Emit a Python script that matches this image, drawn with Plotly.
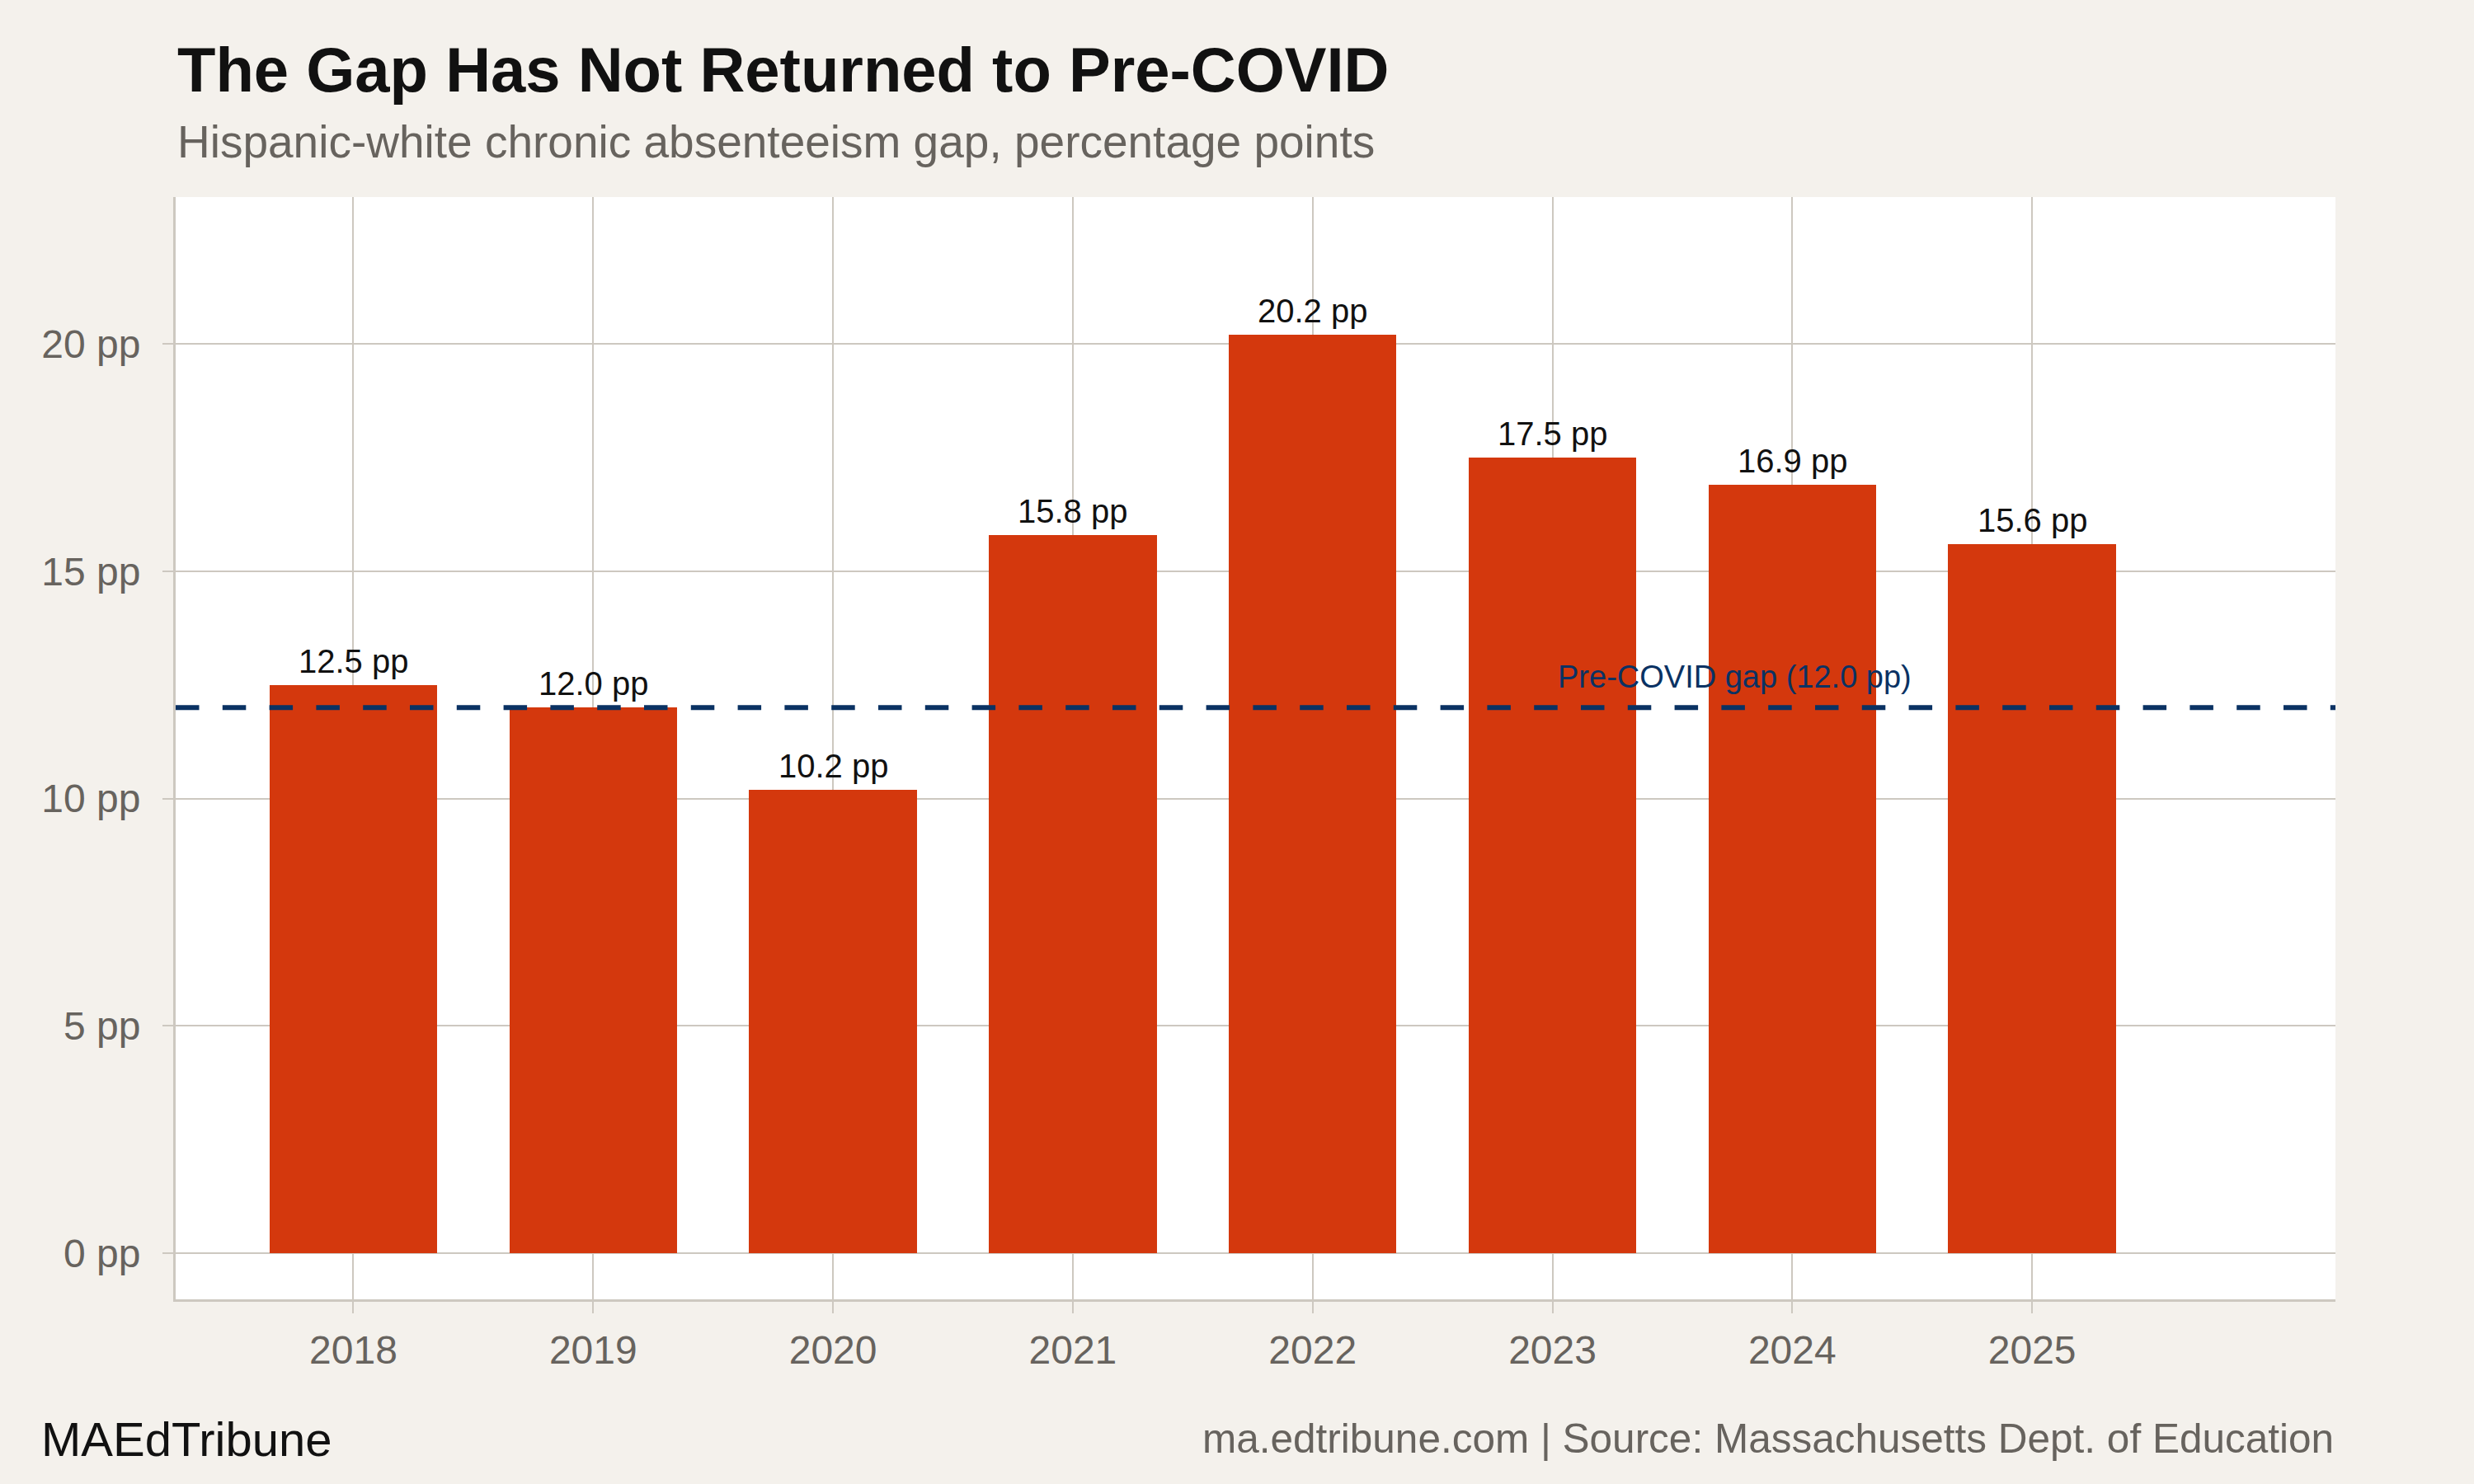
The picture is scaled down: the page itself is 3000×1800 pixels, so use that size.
import plotly.graph_objects as go

# ---- data ----
years = [2018, 2019, 2020, 2021, 2022, 2023, 2024, 2025]
gap_pp = [12.5, 12.0, 10.2, 15.8, 20.2, 17.5, 16.9, 15.6]
pre_covid_gap = 12.0
ref_label_year = 2023
y_ticks = [0, 5, 10, 15, 20]
y_tick_labels = [f"{v} pp" for v in y_ticks]

title = "The Gap Has Not Returned to Pre-COVID"
subtitle = "Hispanic-white chronic absenteeism gap, percentage points"
brand = "MAEdTribune"
source = "ma.edtribune.com | Source: Massachusetts Dept. of Education"
ref_text = f"Pre-COVID gap ({pre_covid_gap:.1f} pp)"

# ---- style ----
FONT = "Liberation Sans, Arial, Helvetica, sans-serif"
BG = "#F4F1EC"
GRID = "#CDC8C0"
TICKTXT = "#67635E"
BAR = "#D4380D"
NAVY = "#0A3263"

fig = go.Figure()
fig.add_trace(go.Bar(
    x=years, y=gap_pp, width=0.7,
    marker=dict(color=BAR, line=dict(width=0)),
    hoverinfo="skip",
))

for yr, v in zip(years, gap_pp):
    fig.add_annotation(x=yr, y=v, xref="x", yref="y", text=f"{v:.1f} pp",
                       showarrow=False, xanchor="center", yanchor="bottom", yshift=5,
                       font=dict(family=FONT, size=40, color="#111111"))

fig.add_shape(type="line", xref="paper", x0=0, x1=1, yref="y",
              y0=pre_covid_gap, y1=pre_covid_gap,
              line=dict(color=NAVY, width=6, dash="28.5px,28.3px"), layer="above")

fig.add_annotation(x=ref_label_year, y=pre_covid_gap, xref="x", yref="y",
                   text=ref_text, showarrow=False, xanchor="left", yanchor="bottom",
                   xshift=4, yshift=14,
                   font=dict(family=FONT, size=38, color=NAVY))

# title / subtitle / footer
fig.add_annotation(x=0, y=1.1155, xref="paper", yref="paper", text=f"<b>{title}</b>",
                   showarrow=False, xanchor="left", yanchor="middle",
                   font=dict(family=FONT, size=76, color="#111111"))
fig.add_annotation(x=0, y=1.0503, xref="paper", yref="paper", text=subtitle,
                   showarrow=False, xanchor="left", yanchor="middle",
                   font=dict(family=FONT, size=55, color=TICKTXT))
fig.add_annotation(x=-0.063, y=-0.1271, xref="paper", yref="paper", text=brand,
                   showarrow=False, xanchor="left", yanchor="middle",
                   font=dict(family=FONT, size=58, color="#111111"))
fig.add_annotation(x=1.0, y=-0.126, xref="paper", yref="paper", text=source,
                   showarrow=False, xanchor="right", yanchor="middle",
                   font=dict(family=FONT, size=49.5, color=TICKTXT))

fig.update_layout(
    width=3000, height=1800,
    paper_bgcolor=BG, plot_bgcolor="white",
    margin=dict(l=213, r=168, t=239, b=224),
    showlegend=False,
    font=dict(family=FONT),
    bargap=0,
)
fig.update_xaxes(
    range=[2017.259, 2026.265], tickmode="array", tickvals=years,
    ticktext=[str(y) for y in years],
    showgrid=True, gridcolor=GRID, gridwidth=2,
    showline=True, linecolor=GRID, linewidth=3,
    ticks="outside", ticklen=14, tickwidth=2, tickcolor=GRID,
    tickfont=dict(family=FONT, size=48, color=TICKTXT),
    ticklabelstandoff=3, zeroline=False,
)
fig.update_yaxes(
    range=[-1.015, 23.23], tickmode="array", tickvals=y_ticks, ticktext=y_tick_labels,
    showgrid=True, gridcolor=GRID, gridwidth=2,
    showline=True, linecolor=GRID, linewidth=3,
    ticks="outside", ticklen=13, tickwidth=2, tickcolor=GRID,
    tickfont=dict(family=FONT, size=48, color=TICKTXT),
    ticklabelstandoff=17, zeroline=False,
)

fig.write_html("out.html")
